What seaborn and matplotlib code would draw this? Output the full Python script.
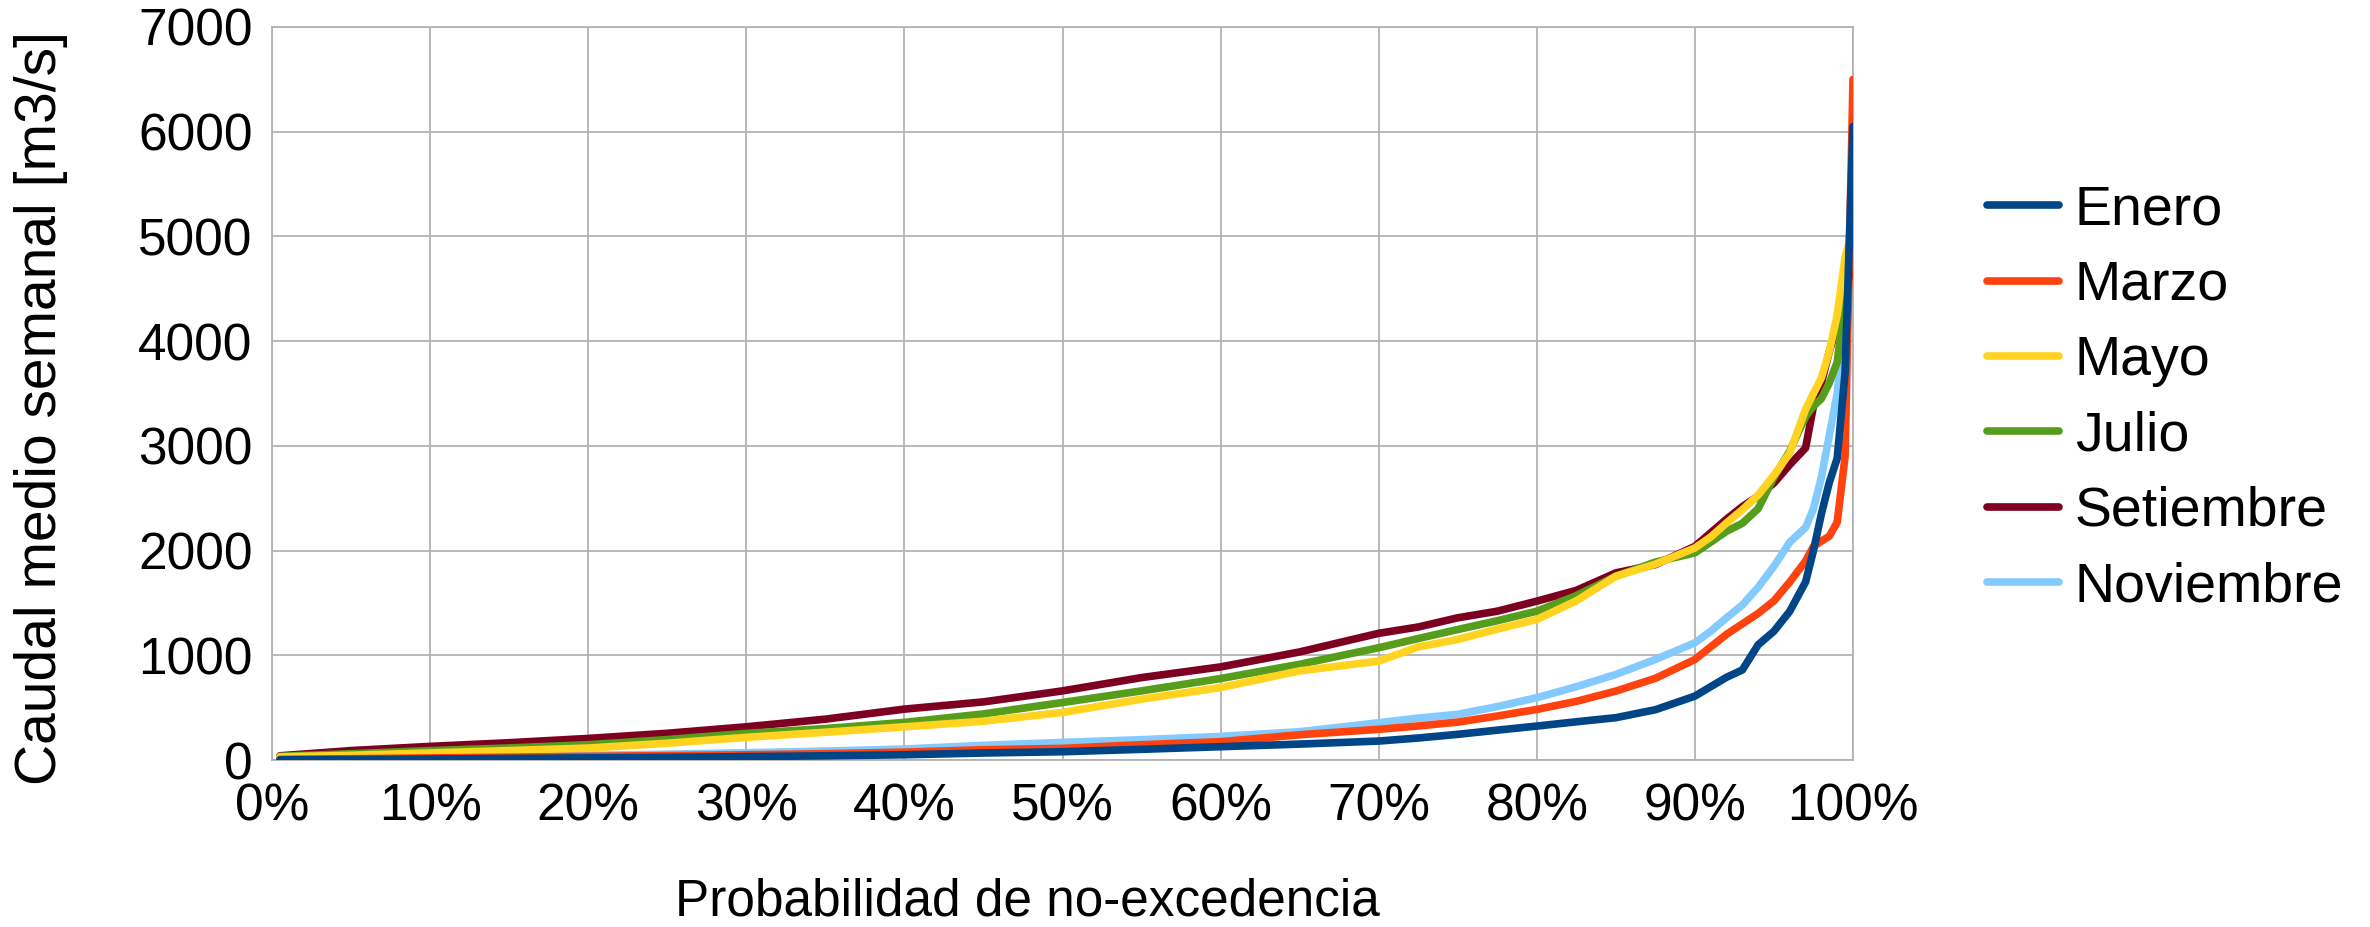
import matplotlib
matplotlib.use('Agg')
import matplotlib.pyplot as plt
from matplotlib.ticker import PercentFormatter
import seaborn as sns
import pandas as pd

# probabilidad de no-excedencia (fraccion)
prob = [0.005, 0.05, 0.10, 0.15, 0.20, 0.25, 0.30, 0.35, 0.40, 0.45, 0.50, 0.55, 0.60, 0.65,
        0.70, 0.725, 0.75, 0.775, 0.80, 0.825, 0.85, 0.875, 0.90, 0.91, 0.92, 0.93, 0.94,
        0.95, 0.96, 0.97, 0.975, 0.98, 0.985, 0.99, 0.995, 1.0]

enero = [2, 5, 10, 15, 20, 25, 32, 40, 50, 67, 79, 102, 127, 152,
         181, 210, 245, 285, 324, 365, 404, 480, 610, 700, 790, 860, 1100,
         1230, 1420, 1700, 2000, 2350, 2650, 2880, 3700, 6050]
marzo = [5, 12, 20, 27, 35, 42, 50, 60, 75, 98, 111, 146, 175, 241,
         293, 325, 362, 420, 483, 560, 658, 780, 960, 1080, 1200, 1300, 1400,
         1520, 1700, 1900, 2040, 2090, 2137, 2270, 2900, 6500]
mayo = [30, 45, 67, 90, 114, 160, 216, 265, 317, 370, 454, 581, 692, 851,
        944, 1080, 1151, 1250, 1342, 1520, 1755, 1870, 2025, 2130, 2264, 2390, 2530,
        2720, 2932, 3350, 3500, 3650, 3900, 4250, 4800, 5060]
julio = [35, 60, 89, 115, 146, 195, 254, 300, 359, 440, 549, 660, 778, 914,
         1072, 1160, 1246, 1330, 1421, 1570, 1755, 1890, 1978, 2080, 2184, 2260, 2400,
         2700, 2950, 3280, 3380, 3450, 3600, 3800, 4400, 5030]
setiembre = [40, 90, 130, 165, 206, 255, 317, 390, 486, 555, 660, 787, 889, 1032,
             1210, 1270, 1358, 1421, 1517, 1620, 1787, 1866, 2040, 2170, 2300, 2420, 2520,
             2645, 2820, 2980, 3380, 3600, 3900, 4150, 4450, 4760]
noviembre = [10, 20, 30, 38, 45, 55, 70, 85, 105, 140, 168, 194, 225, 270,
             356, 400, 436, 510, 595, 700, 817, 960, 1119, 1230, 1358, 1480, 1650,
             1850, 2080, 2220, 2400, 2700, 3100, 3500, 4300, 5200]

meses = ['Enero', 'Marzo', 'Mayo', 'Julio', 'Setiembre', 'Noviembre']
colores = ['#004586', '#ff420e', '#ffd320', '#579d1c', '#7e0021', '#83caff']
series = [enero, marzo, mayo, julio, setiembre, noviembre]

df = pd.concat([pd.DataFrame({'prob': prob, 'caudal': s, 'mes': m})
                for m, s in zip(meses, series)], ignore_index=True)

sns.set_style('white')
plt.rcParams['font.family'] = ['Liberation Sans', 'DejaVu Sans']
plt.rcParams['text.color'] = 'black'
plt.rcParams['axes.labelcolor'] = 'black'

fig = plt.figure(figsize=(23.7, 9.27), dpi=100)
ax = fig.add_axes([272 / 2370, 1 - 760 / 927, (1853 - 272) / 2370, (760 - 27) / 927])

sns.lineplot(data=df, x='prob', y='caudal', hue='mes', hue_order=meses,
             palette=colores, linewidth=5.5, ax=ax, legend=False)

# Enero dibujado encima, Noviembre al fondo
for i, line in enumerate(ax.lines):
    line.set_zorder(10 - i)

grid_c = '#b3b3b3'
ax.set_xlim(0, 1)
ax.set_ylim(0, 7000)
ax.set_xticks([i / 10 for i in range(11)])
ax.set_yticks(range(0, 7001, 1000))
ax.xaxis.set_major_formatter(PercentFormatter(1.0, decimals=0))
ax.grid(True, color=grid_c, linewidth=1.3)
ax.set_axisbelow(True)
for sp in ax.spines.values():
    sp.set_color(grid_c)
    sp.set_linewidth(1.3)
ax.tick_params(axis='both', which='major', direction='out', length=10, width=1.3,
               color=grid_c, labelsize=37, labelcolor='black')
ax.tick_params(axis='x', pad=6)
ax.tick_params(axis='y', pad=4)

ax.set_xlabel('Probabilidad de no-excedencia', fontsize=37, va='center')
ax.xaxis.set_label_coords((1027 - 272) / 1581, (760 - 902) / 733)
ax.set_ylabel('Caudal medio semanal [m3/s]', fontsize=41, va='center')
ax.yaxis.set_label_coords((41 - 272) / 1581, (760 - 408) / 733)

handles = [plt.Line2D([], [], color=c, linewidth=5.5) for c in colores]
fig.legend(handles, meses, loc='center left', bbox_to_anchor=(1987 / 2370, 1 - 399 / 927),
           frameon=False, fontsize=40, borderpad=0, borderaxespad=0,
           handlelength=1.3, handletextpad=0.28, labelspacing=0.42)

fig.savefig('out.png', dpi=100)
plt.close(fig)
